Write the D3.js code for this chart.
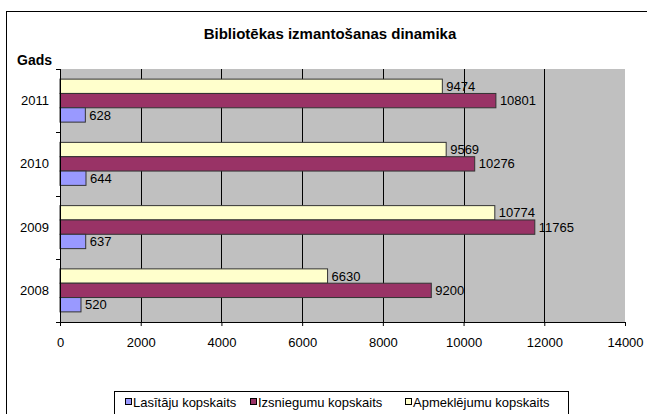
<!DOCTYPE html>
<html>
<head>
<meta charset="utf-8">
<script src="https://cdn.jsdelivr.net/npm/d3@7"></script>
<style>
  body { margin: 0; background: #fff; }
  text { font-family: "Liberation Sans", Arial, sans-serif; fill: #000; }
</style>
</head>
<body>
<svg id="chart" width="647" height="414"></svg>
<script>
const years = ["2011", "2010", "2009", "2008"];
const seriesNames = ["Apmeklējumu kopskaits", "Izsniegumu kopskaits", "Lasītāju kopskaits"];
const apmeklejumi = [9474, 9569, 10774, 6630];
const izsniegumi = [10801, 10276, 11765, 9200];
const lasitaji = [628, 644, 637, 520];
const xTicks = [0, 2000, 4000, 6000, 8000, 10000, 12000, 14000];
const legendOrder = ["Lasītāju kopskaits", "Izsniegumu kopskaits", "Apmeklējumu kopskaits"];

const colors = {
  "Apmeklējumu kopskaits": "#ffffcc",
  "Izsniegumu kopskaits": "#993366",
  "Lasītāju kopskaits": "#9999ff"
};
const valuesBySeries = {
  "Apmeklējumu kopskaits": apmeklejumi,
  "Izsniegumu kopskaits": izsniegumi,
  "Lasītāju kopskaits": lasitaji
};

const svg = d3.select("#chart");
const pLeft = 60, pRight = 625, pTop = 69, pBottom = 322;
const fs = 13;

// outer chart border
svg.append("rect")
   .attr("x", 6.5).attr("y", 11.5)
   .attr("width", 660).attr("height", 420)
   .attr("fill", "#fff").attr("stroke", "#000");

const x = d3.scaleLinear().domain([0, 14000]).range([pLeft, pRight]);
const y0 = d3.scaleBand().domain(years).range([pTop, pBottom]).paddingInner(0.32).paddingOuter(0.16);
const y1 = d3.scaleBand().domain(seriesNames).range([0, y0.bandwidth()]);

// plot area
svg.append("rect")
   .attr("x", pLeft).attr("y", pTop)
   .attr("width", pRight - pLeft).attr("height", pBottom - pTop)
   .attr("fill", "#c0c0c0");

// gridlines
svg.append("g").selectAll("line")
   .data(xTicks.filter(d => d > 0 && d < 14000))
   .join("line")
   .attr("x1", d => Math.round(x(d)) + 0.5).attr("x2", d => Math.round(x(d)) + 0.5)
   .attr("y1", pTop).attr("y2", pBottom)
   .attr("stroke", "#000");

// bars
const groups = svg.append("g").selectAll("g")
   .data(years)
   .join("g")
   .attr("transform", d => `translate(0,${y0(d)})`);

groups.selectAll("rect")
   .data((yr, i) => seriesNames.map(s => ({ s, v: valuesBySeries[s][i] })))
   .join("rect")
   .attr("x", x(0))
   .attr("y", d => y1(d.s))
   .attr("width", d => x(d.v) - x(0))
   .attr("height", y1.bandwidth())
   .attr("fill", d => colors[d.s])
   .attr("stroke", "#333")
   .attr("stroke-width", 1);

groups.selectAll("text")
   .data((yr, i) => seriesNames.map(s => ({ s, v: valuesBySeries[s][i] })))
   .join("text")
   .attr("x", d => x(d.v) + 4)
   .attr("y", d => y1(d.s) + y1.bandwidth() / 2)
   .attr("dy", "0.35em")
   .attr("font-size", fs)
   .text(d => d.v);

// axes
const xAxis = svg.append("g")
   .attr("transform", `translate(0,${pBottom})`)
   .call(d3.axisBottom(x).tickValues(xTicks).tickSize(4).tickSizeOuter(0).tickPadding(12).tickFormat(d3.format("d")));
xAxis.select(".domain").attr("stroke", "#000");
xAxis.selectAll("line").attr("stroke", "#000");
xAxis.selectAll("text").attr("font-size", fs).attr("font-family", "Liberation Sans, Arial, sans-serif");

const yTickPos = d3.range(years.length + 1).map(i => pTop + i * (pBottom - pTop) / years.length);
const yAxis = svg.append("g");
yAxis.append("line")
   .attr("x1", pLeft + 0.5).attr("x2", pLeft + 0.5)
   .attr("y1", pTop).attr("y2", pBottom)
   .attr("stroke", "#000");
yAxis.selectAll("line.tick")
   .data(yTickPos)
   .join("line")
   .attr("class", "tick")
   .attr("x1", pLeft - 4).attr("x2", pLeft)
   .attr("y1", d => Math.round(d) + 0.5).attr("y2", d => Math.round(d) + 0.5)
   .attr("stroke", "#000");
yAxis.selectAll("text")
   .data(years)
   .join("text")
   .attr("x", 49)
   .attr("y", d => y0(d) + y0.bandwidth() / 2)
   .attr("dy", "0.35em")
   .attr("text-anchor", "end")
   .attr("font-size", fs)
   .text(d => d);

// titles
svg.append("text")
   .attr("x", 330).attr("y", 39)
   .attr("text-anchor", "middle")
   .attr("font-size", 15).attr("font-weight", "bold")
   .text("Bibliotēkas izmantošanas dinamika");

svg.append("text")
   .attr("x", 17).attr("y", 65)
   .attr("font-size", 14).attr("font-weight", "bold")
   .text("Gads");

// legend
svg.append("rect")
   .attr("x", 114.5).attr("y", 391.5)
   .attr("width", 454).attr("height", 24)
   .attr("fill", "#fff").attr("stroke", "#000");

const legendX = [125, 250, 405];
const leg = svg.append("g").selectAll("g")
   .data(legendOrder)
   .join("g")
   .attr("transform", (d, i) => `translate(${legendX[i]},398)`);
leg.append("rect")
   .attr("x", 0.5).attr("y", 0.5)
   .attr("width", 6).attr("height", 6)
   .attr("fill", d => colors[d])
   .attr("stroke", "#000");
leg.append("text")
   .attr("x", 8).attr("y", 9)
   .attr("font-size", fs)
   .text(d => d);
</script>
</body>
</html>
